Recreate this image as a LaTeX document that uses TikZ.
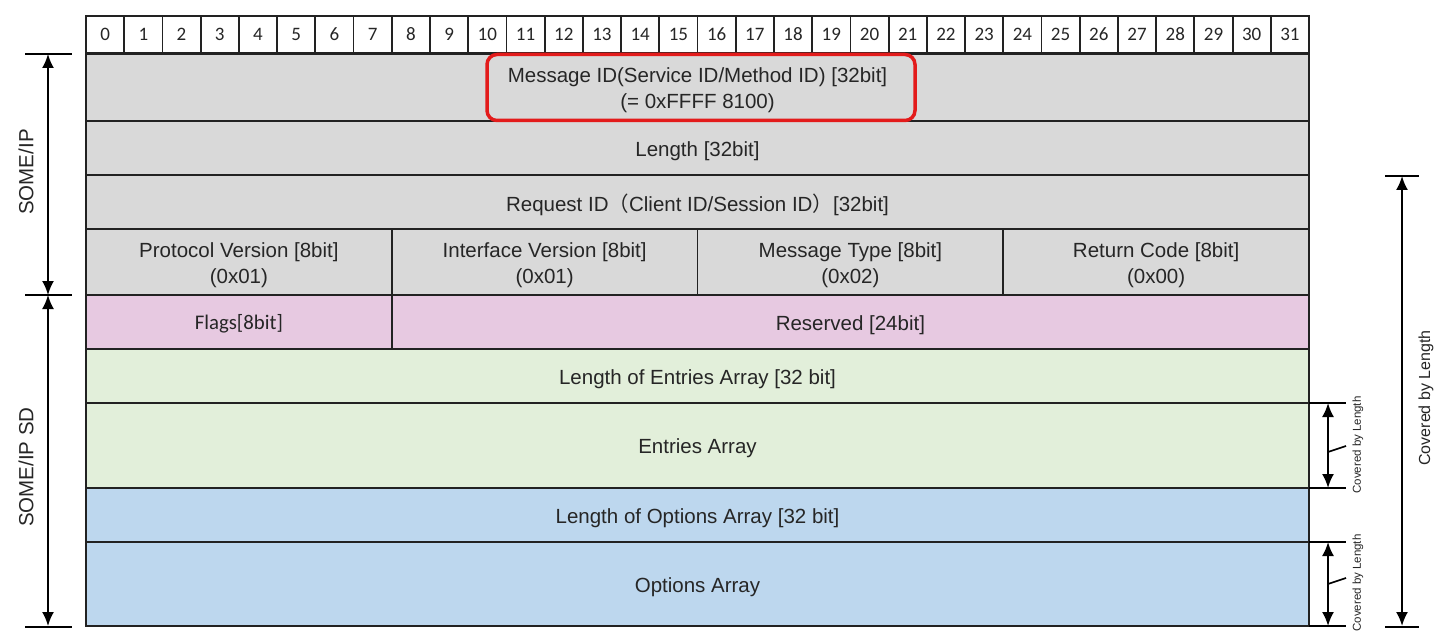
\documentclass[tikz,border=0pt]{standalone}
\usepackage{fontspec}
\setmainfont{Liberation Sans}
\newfontfamily\calibri{Carlito}
\newfontfamily\cjk{Noto Sans CJK SC}
\usetikzlibrary{arrows.meta}
\definecolor{graybox}{HTML}{D9D9D9}
\definecolor{pinkbox}{HTML}{E7C9E1}
\definecolor{greenbox}{HTML}{E2EFDA}
\definecolor{bluebox}{HTML}{BDD7EE}
\definecolor{edge}{HTML}{222222}
\definecolor{txt}{HTML}{262626}
\definecolor{hlred}{HTML}{E31B1B}
\begin{document}
\begin{tikzpicture}[x=1pt,y=-1pt,
  field/.style={draw=edge, line width=1.8pt, anchor=north west, inner sep=0pt, outer sep=0pt,
    minimum height=#1},
  ftext/.style={text=txt, align=center, inner sep=0pt, font=\fontsize{20.5}{26}\selectfont},
  hdr/.style={draw=edge, fill=white, line width=1.8pt, anchor=north west, inner sep=0pt, outer sep=0pt,
    minimum width=38.22pt, minimum height=37pt, text=txt, font=\calibri\fontsize{19}{22}\selectfont},
  redbox/.style={draw=hlred, line width=3.5pt, rounded corners=10pt, inner sep=0pt},
  dim/.style={draw=black, line width=2pt, {Latex[length=14pt,width=12pt]}-{Latex[length=14pt,width=12pt]}},
  dimtick/.style={draw=black, line width=2pt},
  leader/.style={draw=black, line width=1.6pt},
  sidelabel/.style={rotate=90, text=txt, font=\fontsize{20.5}{24}\selectfont, inner sep=0pt},
  covlabel/.style={rotate=90, text=txt, inner sep=0pt}
]
\useasboundingbox (0,0) rectangle (1451,639);

% header bit numbers
\foreach \i in {0,...,31} {
  \node[hdr] (h\i) at ({86+\i*38.22},16) {\i};
}

% SOME/IP header boxes
\node[field=67pt, fill=graybox, minimum width=1223pt] (msg) at (86,54) {};
\node[field=54pt, fill=graybox, minimum width=1223pt] (len) at (86,121) {};
\node[field=54pt, fill=graybox, minimum width=1223pt] (req) at (86,175) {};
\node[field=66pt, fill=graybox, minimum width=305.76pt] (pv) at (86,229) {};
\node[field=66pt, fill=graybox, minimum width=305.76pt] (iv) at (391.76,229) {};
\node[field=66pt, fill=graybox, minimum width=305.76pt] (mt) at (697.52,229) {};
\node[field=66pt, fill=graybox, minimum width=305.72pt] (rc) at (1003.28,229) {};

% SOME/IP SD boxes
\node[field=54pt, fill=pinkbox, minimum width=305.76pt] (flags) at (86,295) {};
\node[field=54pt, fill=pinkbox, minimum width=917.24pt] (res) at (391.76,295) {};
\node[field=54pt, fill=greenbox, minimum width=1223pt] (loe) at (86,349) {};
\node[field=85pt, fill=greenbox, minimum width=1223pt] (ea) at (86,403) {};
\node[field=54pt, fill=bluebox, minimum width=1223pt] (loo) at (86,488) {};
\node[field=84pt, fill=bluebox, minimum width=1223pt] (oa) at (86,542) {};

% field texts
\node[ftext] (msgt) at ([yshift=-3pt]msg.center) {Message ID(Service ID/Method ID) [32bit]\\(= 0xFFFF 8100)};
\node[ftext] (lent) at ([yshift=-3pt]len.center) {Length [32bit]};
\node[ftext] (reqt) at ([yshift=-3pt]req.center) {Request ID{\cjk （}Client ID/Session ID{\cjk ）}[32bit]};
\node[ftext] (pvt) at ([yshift=-3pt]pv.center) {Protocol Version [8bit]\\(0x01)};
\node[ftext] (ivt) at ([yshift=-3pt]iv.center) {Interface Version [8bit]\\(0x01)};
\node[ftext] (mtt) at ([yshift=-3pt]mt.center) {Message Type [8bit]\\(0x02)};
\node[ftext] (rct) at ([yshift=-3pt]rc.center) {Return Code [8bit]\\(0x00)};
\node[ftext, font=\calibri\fontsize{20.8}{24}\selectfont] (flagst) at ([yshift=-2pt]flags.center) {Flags[8bit]};
\node[ftext] (rest) at ([yshift=-3pt]res.center) {Reserved [24bit]};
\node[ftext] (loet) at ([yshift=-3pt]loe.center) {Length of Entries Array [32 bit]};
\node[ftext] (eat) at ([yshift=-3pt]ea.center) {Entries Array};
\node[ftext] (loot) at ([yshift=-3pt]loo.center) {Length of Options Array [32 bit]};
\node[ftext] (oat) at ([yshift=-3pt]oa.center) {Options Array};

% highlight
\node[redbox, minimum width=428pt, minimum height=66pt] (hl) at (701,87.5) {};

% left dimension arrows
\coordinate (l1) at (48,54);
\coordinate (l2) at (48,295);
\coordinate (l3) at (48,626);
\coordinate (l1a) at (25,54);  \coordinate (l1b) at (72,54);
\coordinate (l2a) at (25,295); \coordinate (l2b) at (72,295);
\coordinate (l3a) at (25,627); \coordinate (l3b) at (72,627);
\draw[dimtick] (l1a) -- (l1b);
\draw[dimtick] (l2a) -- (l2b);
\draw[dimtick] (l3a) -- (l3b);
\draw[dim] (l1) -- (l2);
\draw[dim] (l2) -- (l3);
\node[sidelabel] (lbl1) at (26,172) {SOME/IP};
\node[sidelabel] (lbl2) at (26,467) {SOME/IP SD};

% small right arrows
\coordinate (r1) at (1328,403);
\coordinate (r2) at (1328,488);
\coordinate (r3) at (1328,542);
\coordinate (r4) at (1328,626);
\coordinate (r1a) at (1309,403); \coordinate (r1b) at (1346,403);
\coordinate (r2a) at (1309,488); \coordinate (r2b) at (1346,488);
\coordinate (r3a) at (1309,542); \coordinate (r3b) at (1346,542);
\coordinate (r4a) at (1309,626); \coordinate (r4b) at (1346,626);
\draw[dimtick] (r1a) -- (r1b);
\draw[dimtick] (r2a) -- (r2b);
\draw[dimtick] (r3a) -- (r3b);
\draw[dimtick] (r4a) -- (r4b);
\draw[dim] (r1) -- (r2);
\draw[dim] (r3) -- (r4);
\coordinate (s1a) at (1328,452); \coordinate (s1b) at (1346,446);
\coordinate (s2a) at (1328,584); \coordinate (s2b) at (1346,578);
\draw[leader] (s1a) -- (s1b);
\draw[leader] (s2a) -- (s2b);
\node[covlabel, font=\fontsize{11.5}{13}\selectfont] (c1) at (1358,445) {Covered by Length};
\node[covlabel, font=\fontsize{11.5}{13}\selectfont] (c2) at (1358,583) {Covered by Length};

% big right arrow
\coordinate (b1) at (1402,176);
\coordinate (b2) at (1402,626);
\coordinate (b1a) at (1385,176); \coordinate (b1b) at (1419,176);
\coordinate (b2a) at (1385,627); \coordinate (b2b) at (1419,627);
\draw[dimtick] (b1a) -- (b1b);
\draw[dimtick] (b2a) -- (b2b);
\draw[dim] (b1) -- (b2);
\node[covlabel, font=\fontsize{16}{18}\selectfont] (c3) at (1426,398) {Covered by Length};
\end{tikzpicture}
\end{document}
